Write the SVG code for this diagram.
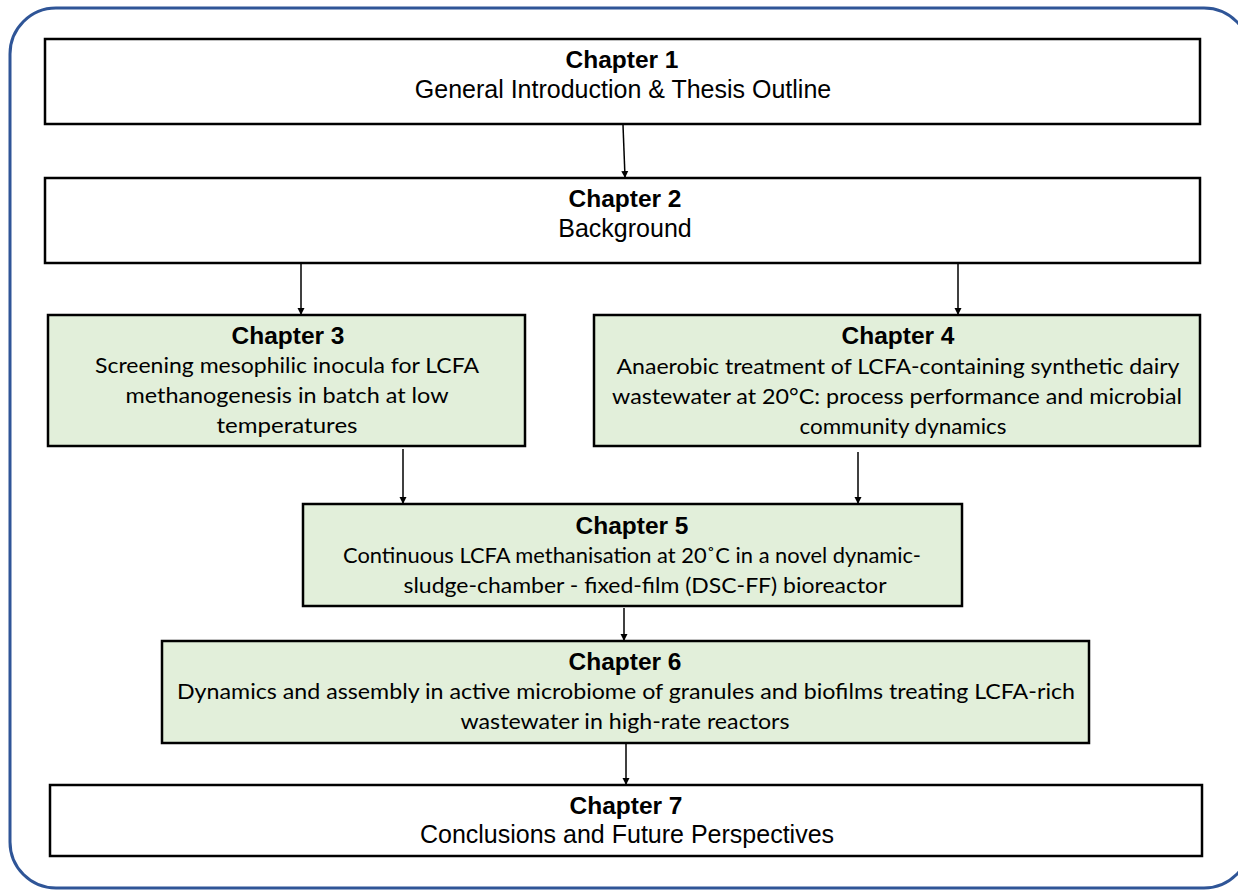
<svg xmlns="http://www.w3.org/2000/svg" width="1238" height="891" viewBox="0 0 1238 891">
<defs>
<marker id="ah" markerWidth="8" markerHeight="8" refX="6" refY="4" orient="auto" markerUnits="userSpaceOnUse">
<path d="M0,0.5 L7,4 L0,7.5 z" fill="#000"/>
</marker>
<style>
.frame{fill:#fff;stroke:#2F5597;stroke-width:3}
.wbox{fill:#fff;stroke:#000;stroke-width:2.5}
.gbox{fill:#E2EFDA;stroke:#000;stroke-width:2.5}
.t{font-family:"Liberation Sans",Arial,sans-serif;font-weight:bold;font-size:24.5px;fill:#000;text-anchor:middle}
.s{font-family:"Liberation Sans",Arial,sans-serif;font-size:25px;fill:#000;text-anchor:middle}
.c{font-family:Lato,"Open Sans",sans-serif;font-size:22px;fill:#000;text-anchor:middle}
.ln{stroke:#000;stroke-width:1.5;fill:none;marker-end:url(#ah)}
</style>
</defs>
<rect class="frame" x="10" y="8" width="1240" height="880" rx="46" ry="46"/>
<g id="connectors">
<line class="ln" x1="623" y1="125" x2="625" y2="177"/>
<line class="ln" x1="301" y1="264" x2="301" y2="314"/>
<line class="ln" x1="958" y1="264" x2="958" y2="314"/>
<line class="ln" x1="403" y1="449" x2="403" y2="503"/>
<line class="ln" x1="858" y1="452" x2="858" y2="503"/>
<line class="ln" x1="624" y1="608" x2="624" y2="640"/>
<line class="ln" x1="626" y1="744" x2="626" y2="784"/>
</g>
<g id="ch1">
<rect class="wbox" x="45" y="39" width="1155" height="85"/>
<text class="t" x="622" y="68">Chapter 1</text>
<text class="s" x="623" y="98">General Introduction &amp; Thesis Outline</text>
</g>
<g id="ch2">
<rect class="wbox" x="45" y="178" width="1155" height="85"/>
<text class="t" x="625" y="207">Chapter 2</text>
<text class="s" x="625" y="237">Background</text>
</g>
<g id="ch3">
<rect class="gbox" x="48" y="315" width="477" height="131"/>
<text class="t" x="288" y="344">Chapter 3</text>
<text class="c" x="287" y="373" textLength="384" lengthAdjust="spacingAndGlyphs">Screening mesophilic inocula for LCFA</text>
<text class="c" x="287" y="403" textLength="323" lengthAdjust="spacingAndGlyphs">methanogenesis in batch at low</text>
<text class="c" x="287" y="433" textLength="141" lengthAdjust="spacingAndGlyphs">temperatures</text>
</g>
<g id="ch4">
<rect class="gbox" x="594" y="315" width="606" height="131"/>
<text class="t" x="898" y="344">Chapter 4</text>
<text class="c" x="898" y="374" textLength="563" lengthAdjust="spacingAndGlyphs">Anaerobic treatment of LCFA-containing synthetic dairy</text>
<text class="c" x="897" y="404" textLength="570" lengthAdjust="spacingAndGlyphs">wastewater at 20°C: process performance and microbial</text>
<text class="c" x="903" y="434" textLength="207" lengthAdjust="spacingAndGlyphs">community dynamics</text>
</g>
<g id="ch5">
<rect class="gbox" x="303" y="504" width="659" height="102"/>
<text class="t" x="632" y="534">Chapter 5</text>
<text class="c" x="632" y="563" textLength="578" lengthAdjust="spacingAndGlyphs">Continuous LCFA methanisation at 20˚C in a novel dynamic-</text>
<text class="c" x="645" y="593" textLength="483" lengthAdjust="spacingAndGlyphs">sludge-chamber - fixed-film (DSC-FF) bioreactor</text>
</g>
<g id="ch6">
<rect class="gbox" x="162" y="641" width="927" height="102"/>
<text class="t" x="625" y="670">Chapter 6</text>
<text class="c" x="626" y="699" textLength="898" lengthAdjust="spacingAndGlyphs">Dynamics and assembly in active microbiome of granules and biofilms treating LCFA-rich</text>
<text class="c" x="625" y="729" textLength="329" lengthAdjust="spacingAndGlyphs">wastewater in high-rate reactors</text>
</g>
<g id="ch7">
<rect class="wbox" x="50" y="785" width="1152" height="71"/>
<text class="t" x="626" y="814">Chapter 7</text>
<text class="s" x="627" y="843">Conclusions and Future Perspectives</text>
</g>
</svg>
